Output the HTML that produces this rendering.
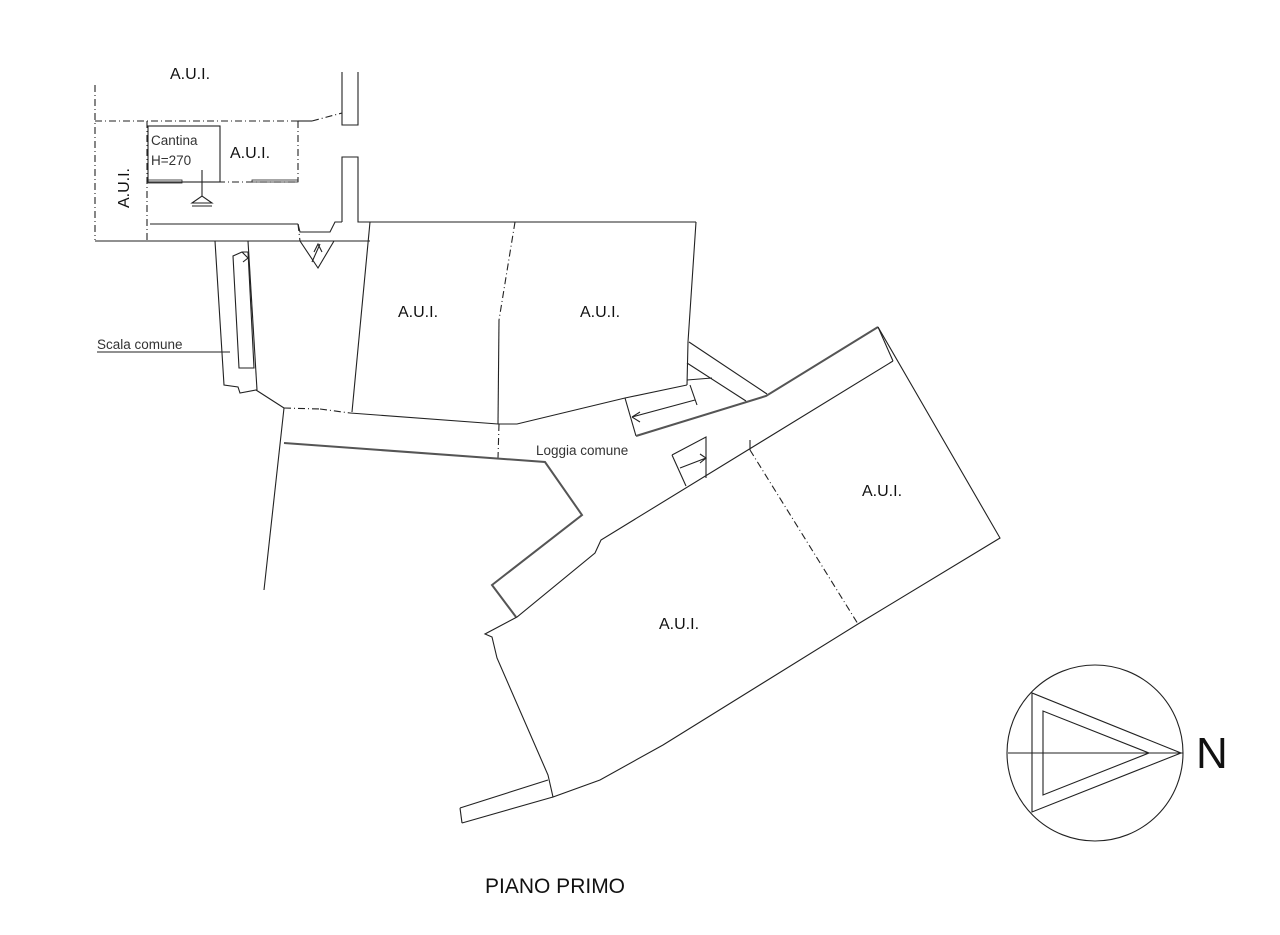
<!DOCTYPE html>
<html><head><meta charset="utf-8"><style>
html,body{margin:0;padding:0;background:#fff;}
svg{display:block;font-family:"Liberation Sans",sans-serif;}
</style></head><body>
<svg width="1280" height="935" viewBox="0 0 1280 935" xmlns="http://www.w3.org/2000/svg">
<g fill="none" stroke="#222" stroke-width="1.1">
<g stroke-dasharray="7,3,1,3">
<line x1="95" y1="85" x2="95" y2="240"/>
<line x1="95" y1="121" x2="298" y2="121"/>
<line x1="147" y1="121" x2="147" y2="240"/>
<line x1="298" y1="121" x2="298" y2="182"/>
<line x1="148" y1="182" x2="298" y2="182"/>
<line x1="312" y1="121" x2="342" y2="113"/>
<line x1="298" y1="224" x2="300" y2="241"/>
<line x1="320" y1="409" x2="350" y2="413"/>
<line x1="515" y1="222" x2="499" y2="320"/>
<line x1="499" y1="424" x2="498" y2="458"/>
<line x1="750" y1="450" x2="858" y2="624"/>
<line x1="284" y1="408" x2="320" y2="409"/>
</g>
<line x1="298" y1="121" x2="312" y2="121"/>
<rect x="148" y="126" width="72" height="56"/>
<rect x="148" y="180" width="34" height="3" stroke-width="0.8"/>
<rect x="252" y="180" width="46" height="2" stroke-width="0.8"/>
<line x1="202" y1="170" x2="202" y2="196"/>
<line x1="190" y1="182" x2="214" y2="182"/>
<path d="M192 203 L202 196 L212 203 Z M192 206 H212"/>
<line x1="150" y1="224" x2="298" y2="224"/>
<path d="M342 72 V125 H358 V72"/>
<path d="M342 222 V157 H358 V222 H696"/>
<path d="M298 224 L300 232 L330 232 L335 222 L342 222"/>
<line x1="95" y1="241" x2="370" y2="241"/>
<path d="M300 241 L318 268 L334 241"/>
<path d="M312 262 L320 244 M314 252 L318 244 L322 252"/>
<path d="M215 241 L224 385 L238 387 L240 393 L256 390 L284 408"/>
<path d="M248 241 L257 390"/>
<path d="M242 252 L233 256 L239 368 L254 368 L248 252 Z"/>
<path d="M242 252 L248 258 L243 262"/>
<line x1="97" y1="352" x2="230" y2="352"/>
<line x1="370" y1="222" x2="352" y2="412"/>
<path d="M696 222 L688 342 L687 385"/>
<line x1="499" y1="320" x2="498" y2="424"/>
<path d="M350 413 L498 424 L517 424 L625 398 L687 385"/>
<path d="M284 408 L264 590"/>
<path d="M284 443 L545 462 L582 515 L492 585 L516 617" stroke-width="2" stroke="#555"/>
<path d="M625 398 L636 436"/>
<path d="M636 436 L766 396 L878 327" stroke-width="2" stroke="#555"/>
<path d="M878 327 L893 361"/>
<path d="M878 327 L1000 538 L858 624 L663 745 L600 780 L553 797 L548 775 L497 658 L492 637 L485 634 L517 617 L595 553 L601 540 L893 361"/>
<path d="M689 342 L767 394 M687 363 L746 401 M687 380 L712 378 M690 385 L697 405"/>
<path d="M632 417 L695 400 M632 417 L640 412 M632 417 L640 422"/>
<path d="M672 455 L706 437 L706 478 M672 455 L686 486"/>
<path d="M680 468 L706 458 M700 454 L706 458 L700 463"/>
<line x1="750" y1="450" x2="750" y2="440"/>
<path d="M460 808 L548 780 M462 823 L553 797 M460 808 L462 823"/>
<circle cx="1095" cy="753" r="88"/>
<line x1="1008" y1="753" x2="1183" y2="753"/>
<path d="M1032 693 L1032 812 L1181 753 Z"/>
<path d="M1043 711 L1043 795 L1149 753 Z"/>
</g>
<g fill="#111" font-size="16">
<text x="170" y="79">A.U.I.</text>
<text x="230" y="158">A.U.I.</text>
<text x="398" y="317">A.U.I.</text>
<text x="580" y="317">A.U.I.</text>
<text x="862" y="496">A.U.I.</text>
<text x="659" y="629">A.U.I.</text>
<text transform="translate(129,208) rotate(-90)">A.U.I.</text>
<text x="151" y="145" font-size="13.5" fill="#333">Cantina</text>
<text x="151" y="165" font-size="13.5" fill="#333">H=270</text>
<text x="97" y="349" font-size="13.5" fill="#333">Scala comune</text>
<text x="536" y="455" font-size="13.5" fill="#333">Loggia comune</text>
<text x="485" y="893" font-size="21">PIANO PRIMO</text>
<text x="1196" y="768" font-size="44">N</text>
</g>
</svg>
</body></html>
